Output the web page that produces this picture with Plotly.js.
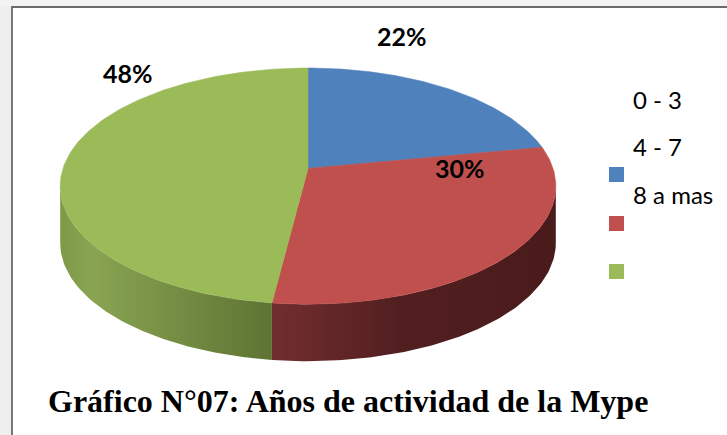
<!DOCTYPE html>
<html>
<head>
<meta charset="utf-8">
<script src="https://cdn.plot.ly/plotly-3.0.1.min.js"></script>
<style>html,body{margin:0;padding:0;background:#fff;}#chart{width:727px;height:435px;}</style>
</head>
<body>
<div id="chart"></div>
<script>
// ---- data ----
const categories = ['0 - 3', '4 - 7', '8 a mas'];
const values = [22, 30, 48];
const colors = ['#4f81bd', '#c0504d', '#9bbb59'];
const sideScales = [
  [[0, '#3a5f8c'], [1, '#2b4668']],
  [[0, '#722d2f'], [0.45, '#521f20'], [1, '#4a1b1c']],
  [[0, '#7f9a47'], [0.15, '#89a452'], [1, '#5e7333']]
];
const chartTitle = 'Gráfico N°07: Años de actividad de la Mype';

// ---- geometry of the tilted disc (pixel space) ----
const CX = 308, CY = 168.4, RX = 245, RY = 115.4, P = 0.15, DEPTH = 57;
function proj(deg, dy) {
  const t = deg * Math.PI / 180, s = Math.sin(t), c = Math.cos(t), w = 1 + P * c;
  return [CX + RX * s / w, CY - RY * c / w + dy];
}
const total = values.reduce((a, b) => a + b, 0);
const bounds = [];
let acc = 0;
values.forEach(v => { const a0 = acc / total * 360; acc += v; bounds.push([a0, acc / total * 360]); });
const thR = Math.acos(-P) * 180 / Math.PI, thL = 360 - thR;

function arc(a0, a1, dy) {
  const pts = [], n = Math.max(2, Math.ceil(Math.abs(a1 - a0)));
  for (let k = 0; k <= n; k++) pts.push(proj(a0 + (a1 - a0) * k / n, dy));
  return pts;
}

const traces = [];
// side walls
bounds.forEach(([a0, a1], i) => {
  const lo = Math.max(a0, thR), hi = Math.min(a1, thL);
  if (lo >= hi) return;
  const pts = arc(lo, hi, 0).concat(arc(hi, lo, DEPTH));
  pts.push(pts[0]);
  traces.push({
    type: 'scatter', mode: 'lines', x: pts.map(p => p[0]), y: pts.map(p => p[1]),
    fill: 'toself', line: {width: 0, color: 'rgba(0,0,0,0)'},
    fillgradient: {type: 'horizontal', colorscale: sideScales[i]},
    hoverinfo: 'skip', showlegend: false
  });
});
// top faces
bounds.forEach(([a0, a1], i) => {
  const pts = [[CX, CY]].concat(arc(a0, a1, 0));
  pts.push([CX, CY]);
  traces.push({
    type: 'scatter', mode: 'lines', x: pts.map(p => p[0]), y: pts.map(p => p[1]),
    fill: 'toself', fillcolor: colors[i], line: {width: 0.6, color: colors[i]},
    name: categories[i], hoverinfo: 'name', showlegend: false
  });
});

const labelPos = [[402, 36], [460, 168], [128, 73]];
const legendText = [[631, 99], [631, 146], [631, 194]];
const legendBox = [174.5, 223.5, 271.5];

const annotations = values.map((v, i) => ({
  x: labelPos[i][0], y: labelPos[i][1], xref: 'x', yref: 'y', showarrow: false,
  text: '<b>' + v + '%</b>', font: {family: 'Lato, Noto Sans, sans-serif', size: 25, color: '#000'}
})).concat(categories.map((c, i) => ({
  x: legendText[i][0], y: legendText[i][1], xref: 'x', yref: 'y', showarrow: false,
  xanchor: 'left', text: c, font: {family: 'Lato, Noto Sans, sans-serif', size: 24, color: '#000'}
}))).concat([{
  x: 347.5, y: 401, xref: 'x', yref: 'y', showarrow: false,
  text: '<b>' + chartTitle + '</b>',
  font: {family: 'Liberation Serif, Times New Roman, serif', size: 32, color: '#000'}
}]);

const shapes = [
  {type: 'rect', xref: 'x', yref: 'y', x0: 0, x1: 11, y0: 0, y1: 435, fillcolor: '#efefef', line: {width: 0}, layer: 'below'},
  {type: 'rect', xref: 'x', yref: 'y', x0: 0, x1: 727, y0: 0, y1: 6, fillcolor: '#f3f3f3', line: {width: 0}, layer: 'below'},
  {type: 'rect', xref: 'x', yref: 'y', x0: 12, x1: 760, y0: 7, y1: 460, fillcolor: '#ffffff', line: {width: 1.8, color: '#6b6b6b'}, layer: 'below'}
].concat(colors.map((col, i) => ({
  type: 'rect', xref: 'x', yref: 'y', x0: 609, x1: 624, y0: legendBox[i] - 7.5, y1: legendBox[i] + 7.5,
  fillcolor: col, line: {width: 0}
})));

const layout = {
  width: 727, height: 435, margin: {l: 0, r: 0, t: 0, b: 0},
  paper_bgcolor: '#ffffff', plot_bgcolor: 'rgba(0,0,0,0)',
  xaxis: {range: [0, 727], visible: false, fixedrange: true},
  yaxis: {range: [435, 0], visible: false, fixedrange: true},
  showlegend: false, annotations: annotations, shapes: shapes
};
Plotly.newPlot('chart', traces, layout, {staticPlot: true, displayModeBar: false});
</script>
</body>
</html>
